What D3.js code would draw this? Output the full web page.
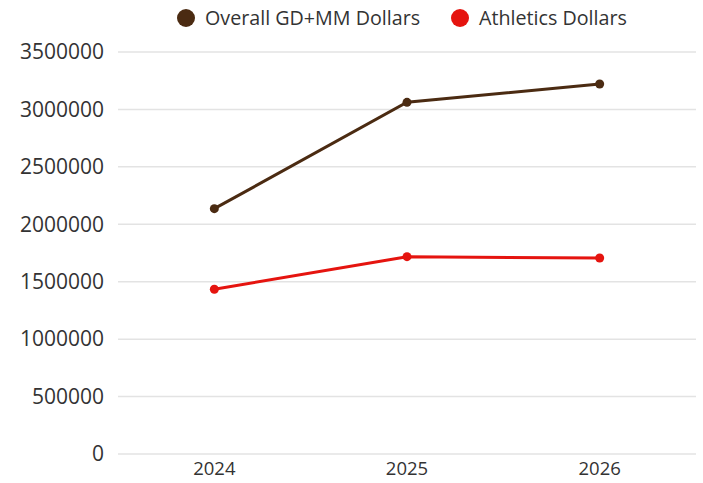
<!DOCTYPE html>
<html>
<head>
<meta charset="utf-8">
<script src="https://cdn.jsdelivr.net/npm/d3@7"></script>
<style>
  body { margin: 0; background: #fff; }
  svg { display: block; }
</style>
</head>
<body>
<div id="chart"></div>
<script>
var years = ["2024", "2025", "2026"];
var overallDollars = [2136000, 3062000, 3221000];
var athleticsDollars = [1434000, 1718000, 1706000];
var yTicks = [0, 500000, 1000000, 1500000, 2000000, 2500000, 3000000, 3500000];
var seriesNames = ["Overall GD+MM Dollars", "Athletics Dollars"];
var seriesColors = ["#4b2b12", "#e5140f"];

chart('#chart');

function chart(id) {
	var width = 703;
	var height = 483;
	var margin = { top: 52, right: 7, bottom: 29, left: 118 };

	var svg = d3.select(id).append("svg")
		.attr("width", width)
		.attr("height", height);

	var x = d3.scaleBand()
		.domain(years)
		.range([margin.left, width - margin.right])
		.padding(0);

	var y = d3.scaleLinear()
		.domain([0, 3500000])
		.range([height - margin.bottom, margin.top]);

	// gridlines
	svg.append("g")
		.selectAll("line")
		.data(yTicks)
		.join("line")
		.attr("x1", margin.left)
		.attr("x2", width - margin.right)
		.attr("y1", function(d) { return y(d); })
		.attr("y2", function(d) { return y(d); })
		.attr("stroke", "#e3e3e3")
		.attr("stroke-width", 1.5);

	// y axis labels
	var yAxis = svg.append("g")
		.attr("transform", "translate(104,0)")
		.call(d3.axisLeft(y).tickValues(yTicks).tickSize(0).tickPadding(0).tickFormat(d3.format("d")));
	yAxis.select(".domain").remove();
	yAxis.selectAll("text")
		.attr("fill", "#333333")
		.style("font-family", "'Open Sans', 'Noto Sans', sans-serif")
		.style("font-size", "21px");

	// x axis labels
	var xAxis = svg.append("g")
		.attr("transform", "translate(0," + (height - margin.bottom + 15) + ")")
		.call(d3.axisBottom(x).tickSize(0).tickPadding(0));
	xAxis.select(".domain").remove();
	xAxis.selectAll("text")
		.attr("fill", "#333333")
		.attr("dy", "0.35em")
		.style("font-family", "'Open Sans', 'Noto Sans', sans-serif")
		.style("font-size", "18.5px");

	var line = d3.line()
		.x(function(d, i) { return x(years[i]) + x.bandwidth() / 2; })
		.y(function(d) { return y(d); });

	[overallDollars, athleticsDollars].forEach(function(values, k) {
		var g = svg.append("g");
		g.append("path")
			.datum(values)
			.attr("d", line)
			.attr("fill", "none")
			.attr("stroke", seriesColors[k])
			.attr("stroke-width", 3);
		g.selectAll("circle")
			.data(values)
			.join("circle")
			.attr("cx", function(d, i) { return x(years[i]) + x.bandwidth() / 2; })
			.attr("cy", function(d) { return y(d); })
			.attr("r", 4.5)
			.attr("fill", seriesColors[k]);
	});

	// Legend
	var legendX = [186, 460];
	seriesNames.forEach(function(name, k) {
		var lg = svg.append("g").attr("transform", "translate(" + legendX[k] + ",18)");
		lg.append("circle")
			.attr("r", 9)
			.attr("fill", seriesColors[k]);
		lg.append("text")
			.attr("x", 19)
			.attr("y", 0)
			.attr("dy", "0.35em")
			.attr("fill", "#333333")
			.style("font-family", "'Open Sans', 'Noto Sans', sans-serif")
			.style("font-size", "19.7px")
			.text(name);
	});
}
</script>
</body>
</html>
